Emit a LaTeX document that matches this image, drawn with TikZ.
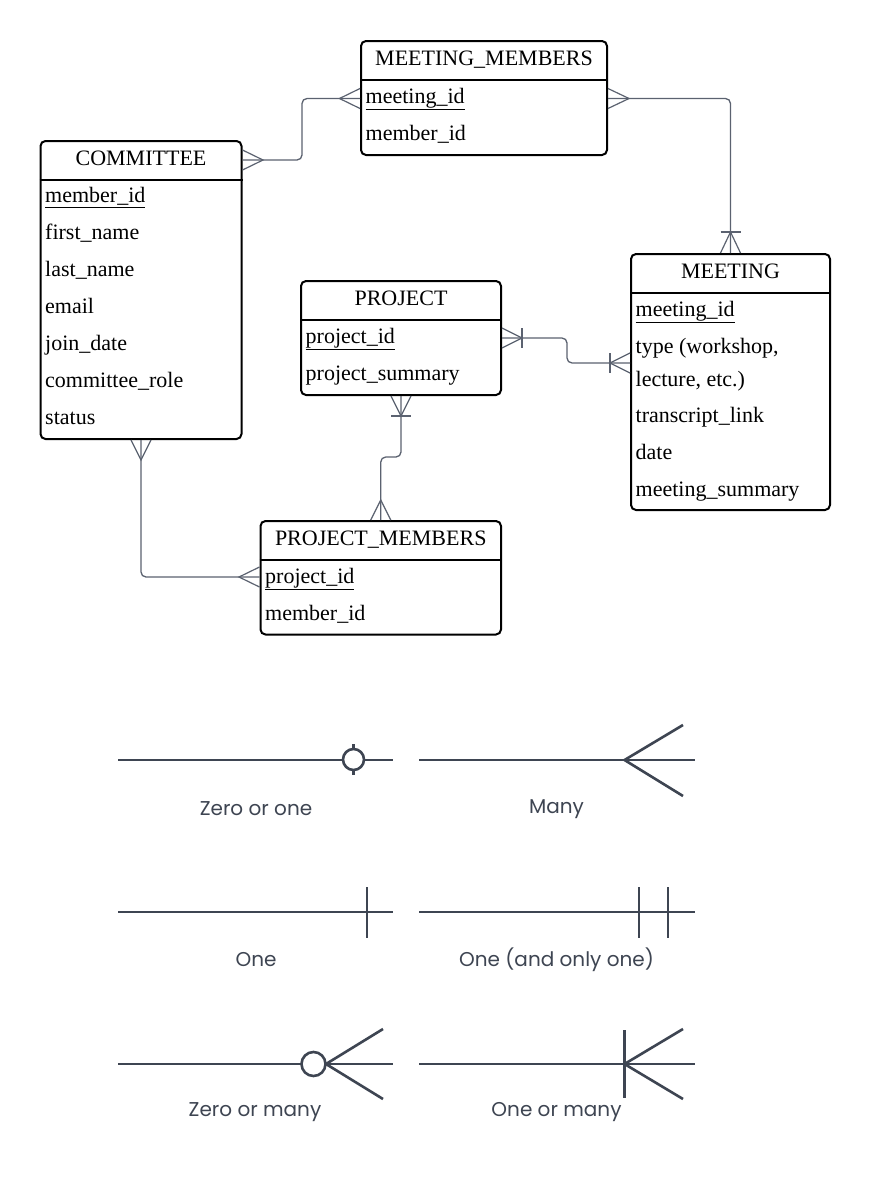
\documentclass[tikz,border=0pt]{standalone}
\usepackage{fontspec}
\setmainfont{Liberation Serif}
\newfontfamily\legendfont{Poppins}
\usetikzlibrary{calc}
\definecolor{conn}{HTML}{5B6270}
\definecolor{leg}{HTML}{3E4552}
\begin{document}
\begin{tikzpicture}[x=1pt,y=-1pt,
 entity/.style={draw=black, line width=2pt, rounded corners=5pt, anchor=north west, inner sep=0pt, fill=white},
 title/.style={anchor=base, font=\fontsize{22}{26}\selectfont, inner sep=0pt},
 attr/.style={anchor=base west, font=\fontsize{22}{26}\selectfont, inner sep=0pt},
 sep/.style={draw=black, line width=2pt},
 rel/.style={draw=conn, line width=1.3pt, rounded corners=5pt},
 foot/.style={draw=conn, line width=1.2pt},
 legline/.style={draw=leg, line width=2.6pt},
 leglabel/.style={font=\legendfont\fontsize{20}{23}\selectfont, text=leg, inner sep=0pt},
]
\useasboundingbox[fill=white] (0,0) rectangle (870,1202);

% ---------- entities ----------
\node[entity, minimum width=246pt, minimum height=114pt] (mm) at (360,40) {};
\draw[sep] ($(mm.north west)+(0,40)$) -- ($(mm.north east)+(0,40)$);
\node[title] (mmT) at ($(mm.north)+(0,25)$) {MEETING\_MEMBERS};
\node[attr] (mmA1) at ($(mm.north west)+(5.5,63)$) {\underline{meeting\_id}};
\node[attr] (mmA2) at ($(mm.north west)+(5.5,100)$) {member\_id};

\node[entity, minimum width=201pt, minimum height=298pt] (com) at (39.5,140) {};
\draw[sep] ($(com.north west)+(0,39.5)$) -- ($(com.north east)+(0,39.5)$);
\node[title] (comT) at ($(com.north)+(0,25)$) {COMMITTEE};
\node[attr] (comA1) at ($(com.north west)+(5.5,62.5)$) {\underline{member\_id}};
\node[attr] (comA2) at ($(com.north west)+(5.5,99.5)$) {first\_name};
\node[attr] (comA3) at ($(com.north west)+(5.5,136.5)$) {last\_name};
\node[attr] (comA4) at ($(com.north west)+(5.5,173.5)$) {email};
\node[attr] (comA5) at ($(com.north west)+(5.5,210.5)$) {join\_date};
\node[attr] (comA6) at ($(com.north west)+(5.5,247.5)$) {committee\_role};
\node[attr] (comA7) at ($(com.north west)+(5.5,284.5)$) {status};

\node[entity, minimum width=200pt, minimum height=114pt] (prj) at (300,280) {};
\draw[sep] ($(prj.north west)+(0,40)$) -- ($(prj.north east)+(0,40)$);
\node[title] (prjT) at ($(prj.north)+(0,25)$) {PROJECT};
\node[attr] (prjA1) at ($(prj.north west)+(5.5,63)$) {\underline{project\_id}};
\node[attr] (prjA2) at ($(prj.north west)+(5.5,100)$) {project\_summary};

\node[entity, minimum width=199pt, minimum height=256pt] (mtg) at (630,253) {};
\draw[sep] ($(mtg.north west)+(0,39.5)$) -- ($(mtg.north east)+(0,39.5)$);
\node[title] (mtgT) at ($(mtg.north)+(0,25)$) {MEETING};
\node[attr] (mtgA1) at ($(mtg.north west)+(5.5,63)$) {\underline{meeting\_id}};
\node[attr] (mtgA2) at ($(mtg.north west)+(5.5,100)$) {type (workshop,};
\node[attr] (mtgA2b) at ($(mtg.north west)+(5.5,133)$) {lecture, etc.)};
\node[attr] (mtgA3) at ($(mtg.north west)+(5.5,169)$) {transcript\_link};
\node[attr] (mtgA4) at ($(mtg.north west)+(5.5,206)$) {date};
\node[attr] (mtgA5) at ($(mtg.north west)+(5.5,243)$) {meeting\_summary};

\node[entity, minimum width=240.5pt, minimum height=113.5pt] (pm) at (259.5,520) {};
\draw[sep] ($(pm.north west)+(0,40)$) -- ($(pm.north east)+(0,40)$);
\node[title] (pmT) at ($(pm.north)+(0,25)$) {PROJECT\_MEMBERS};
\node[attr] (pmA1) at ($(pm.north west)+(5.5,63)$) {\underline{project\_id}};
\node[attr] (pmA2) at ($(pm.north west)+(5.5,100)$) {member\_id};

% ---------- relationships ----------
% COMMITTEE -- MEETING_MEMBERS
\coordinate (c1a) at ($(com.north east)+(0,20)$);
\coordinate (c1b) at ($(mm.north west)+(0,58.5)$);
\draw[rel] (c1a) -- ++(59.5,0) |- (c1b);
\draw[foot] (c1a) ++(0,-10) -- ++(20.5,10) -- ++(-20.5,10);
\draw[foot] (c1b) ++(0,-10) -- ++(-20.5,10) -- ++(20.5,10);

% MEETING_MEMBERS -- MEETING
\coordinate (c2a) at ($(mm.north east)+(0,58.5)$);
\draw[rel] (c2a) -| (mtg.north);
\draw[foot] (c2a) ++(0,-10) -- ++(21,10) -- ++(-21,10);
\draw[foot] (mtg.north) ++(-10,0) -- ++(10,-21) -- ++(10,21);
\draw[foot] (mtg.north) ++(-10,-21) -- ++(20,0);

% PROJECT -- MEETING
\coordinate (c3a) at ($(prj.north east)+(0,58)$);
\coordinate (c3b) at ($(mtg.north west)+(0,110)$);
\draw[rel] (c3a) -- ++(65,0) |- (c3b);
\draw[foot] (c3a) ++(0,-10) -- ++(20,10) -- ++(-20,10);
\draw[foot] (c3a) ++(20,-10) -- ++(0,20);
\draw[foot] (c3b) ++(0,-10) -- ++(-20,10) -- ++(20,10);
\draw[foot] (c3b) ++(-20,-10) -- ++(0,20);

% PROJECT -- PROJECT_MEMBERS
\draw[rel] (prj.south) -- ++(0,61) -| (pm.north);
\draw[foot] (prj.south) ++(-10,0) -- ++(10,20) -- ++(10,-20);
\draw[foot] (prj.south) ++(-10,20) -- ++(20,0);
\draw[foot] (pm.north) ++(-10,0) -- ++(10,-20) -- ++(10,20);

% COMMITTEE -- PROJECT_MEMBERS
\coordinate (c5b) at ($(pm.north west)+(0,57)$);
\draw[rel] (com.south) |- (c5b);
\draw[foot] (com.south) ++(-10,0) -- ++(10,20) -- ++(10,-20);
\draw[foot] (c5b) ++(0,-10) -- ++(-20.5,10) -- ++(20.5,10);

% ---------- legend ----------
% Zero or one
\draw[legline] (118,760) -- (393,760);
\draw[legline] (353.5,744) -- (353.5,775);
\draw[legline, fill=white] (353.5,759.5) circle[radius=10.5pt];
\node[leglabel] (lZO) at (256,809) {Zero or one};
% Many
\draw[legline] (419,760) -- (695,760);
\draw[legline] (683,725) -- (624.5,760) -- (683,796);
\node[leglabel] (lMany) at (556.5,809) {Many};
% One
\draw[legline] (118,912) -- (393,912);
\draw[legline] (367,887) -- (367,938);
\node[leglabel] (lOne) at (256,960) {One};
% One (and only one)
\draw[legline] (419,912) -- (695,912);
\draw[legline] (639,887) -- (639,938);
\draw[legline] (668,887) -- (668,938);
\node[leglabel] (lOnly) at (556.5,960) {One (and only one)};
% Zero or many
\draw[legline] (118,1064) -- (393,1064);
\draw[legline] (383,1029) -- (326,1064) -- (383,1099);
\draw[legline, fill=white] (313.5,1064) circle[radius=12pt];
\node[leglabel] (lZM) at (255,1112) {Zero or many};
% One or many
\draw[legline] (419,1064) -- (695,1064);
\draw[legline] (624.5,1030) -- (624.5,1098);
\draw[legline] (683,1029) -- (624.5,1064) -- (683,1099);
\node[leglabel] (lOM) at (556.5,1112) {One or many};
\end{tikzpicture}
\end{document}
